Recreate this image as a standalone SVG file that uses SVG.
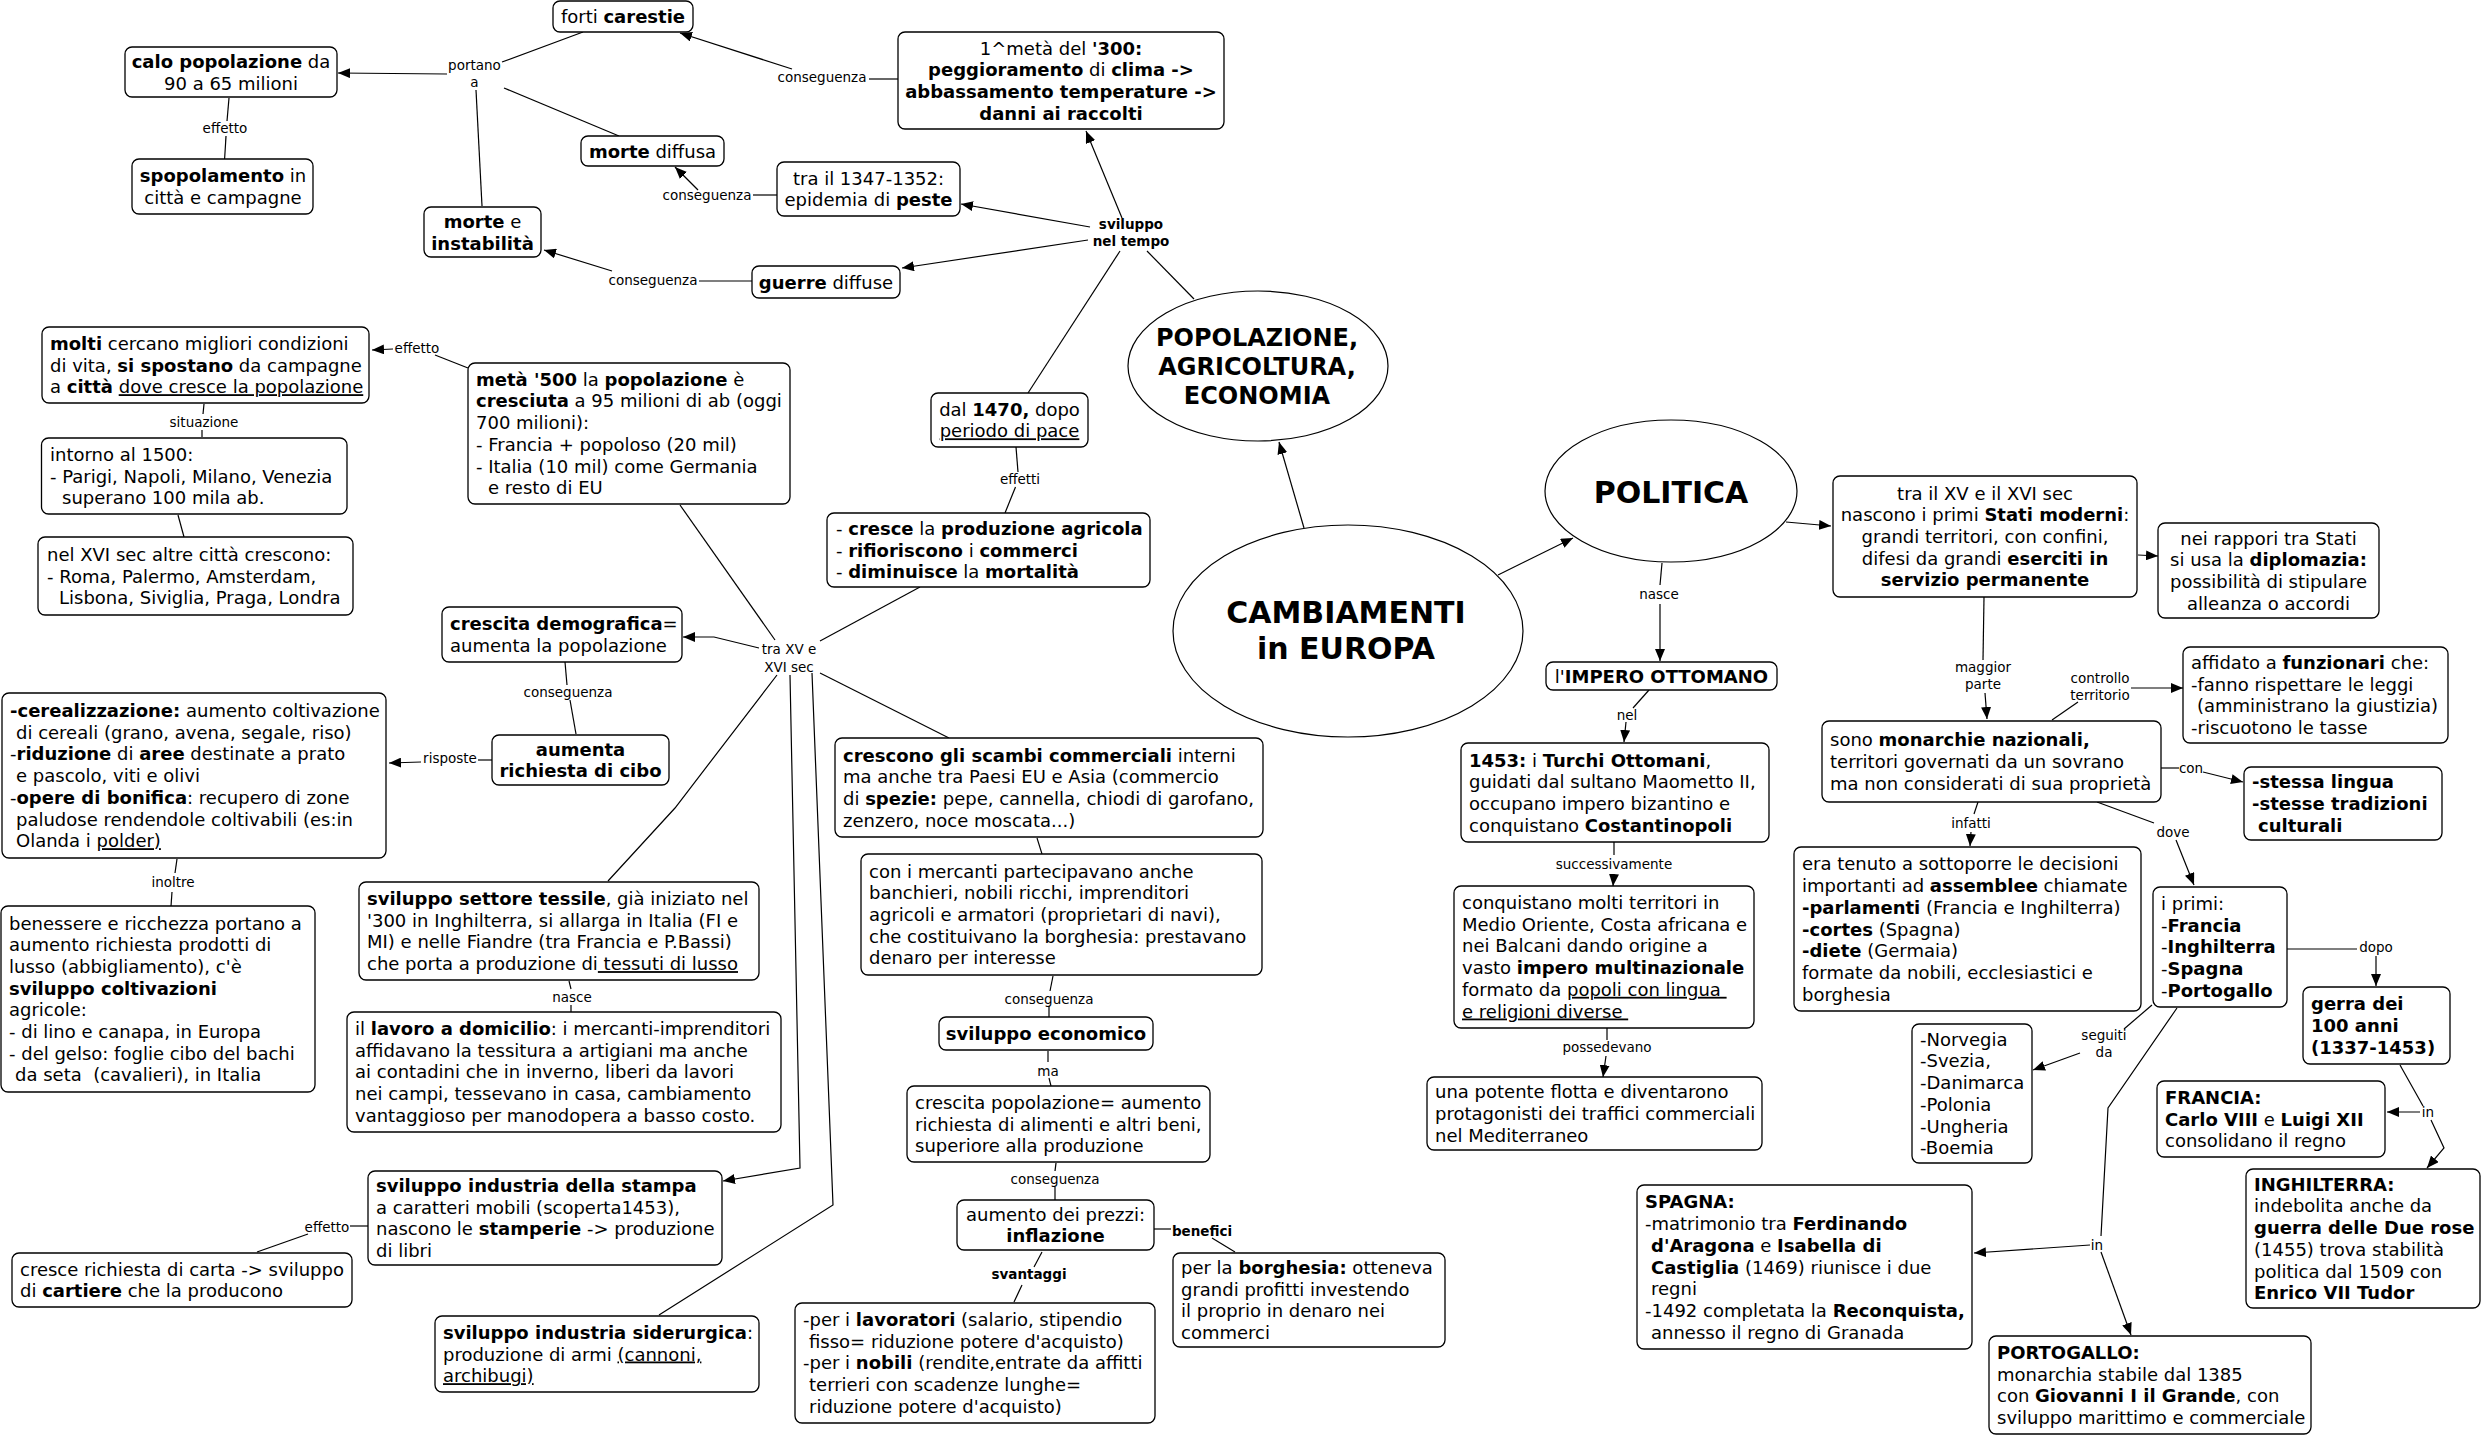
<svg xmlns="http://www.w3.org/2000/svg" width="2483" height="1436" viewBox="0 0 2483 1436">
<style>
text{font-family:"DejaVu Sans",Verdana,sans-serif;font-size:18px;fill:#000}
.c{text-anchor:middle}
.b{font-weight:bold}
.u{text-decoration:underline}
.l{font-size:13.5px;text-anchor:middle}
.big{font-size:30px;font-weight:bold;text-anchor:middle}
.mid{font-size:24px;font-weight:bold;text-anchor:middle}
rect{fill:#fff;stroke:#000;stroke-width:1.3}
ellipse{fill:#fff;stroke:#000;stroke-width:1.2}
.e path{fill:none;stroke:#000;stroke-width:1.2}
.e path.a{marker-end:url(#ah)}
</style>
<defs>
<marker id="ah" markerWidth="13" markerHeight="10" refX="12" refY="5" orient="auto" markerUnits="userSpaceOnUse"><path d="M0,0 L12,5 L0,10 z" fill="#000"/></marker>
</defs>
<rect x="0" y="0" width="2483" height="1436" style="fill:#fff;stroke:none"/>
<g id="connectors" class="e">
<path d="M898,79 L869,79"/><path class="a" d="M792,69 L680,33"/>
<path d="M777,195 L753,195"/><path class="a" d="M698,190 L675,167"/>
<path d="M752,281 L699,281"/><path class="a" d="M612,271 L544,250"/>
<path d="M583,32 L502,62"/><path class="a" d="M447,74 L338,73"/><path d="M504,88 L619,136"/><path d="M476,90 L482,206"/>
<path d="M229,98 L227,121"/><path d="M226,136 L224.6,159"/>
<path class="a" d="M1122,218 L1086,131"/><path class="a" d="M1090,227 L961,204"/><path class="a" d="M1088,240 L902,268"/><path d="M1147,251 L1194,299"/><path d="M1120,251 L1028,393"/>
<path d="M1016,447 L1018,472"/><path d="M1015.5,487 L1005,513"/>
<path d="M920,587 L820,641"/>
<path d="M775,640 L680,505"/>
<path class="a" d="M759,648 L714,637 L683,637"/>
<path d="M820,673 L949,738"/>
<path d="M777,675 L675,808 L608,881"/>
<path class="a" d="M790,675 L800,1168 L723,1181"/>
<path d="M812,673 L833,1205 L659,1315"/>
<path d="M468,368 L435,355"/><path class="a" d="M393,349 L372,350"/>
<path d="M204,404 L203,414"/><path d="M202,430 L202,437"/>
<path d="M178,515 L184,537"/>
<path d="M565,662 L567,685"/><path d="M570,700 L576,734"/>
<path d="M492,760 L478,760"/><path class="a" d="M421,762 L389,763"/>
<path d="M177,859 L175,873"/><path d="M172,892 L171,906"/>
<path d="M569,981 L571,989"/><path d="M571,1005 L571,1012"/>
<path d="M368,1226 L350,1226"/><path d="M308,1234 L257,1252"/>
<path d="M1037,838 L1042,854"/>
<path d="M1053,976 L1050,991"/><path d="M1049,1006 L1049,1017"/>
<path d="M1048,1051 L1048,1062"/><path d="M1049,1078 L1051,1086"/>
<path d="M1056,1163 L1055,1171"/><path d="M1055,1187 L1055,1200"/>
<path d="M1154,1229 L1171,1229"/><path d="M1212,1238 L1235,1252"/>
<path d="M1042,1252 L1034,1267"/><path d="M1022,1285 L1014,1302"/>
<path class="a" d="M1304,528 L1279,442"/>
<path class="a" d="M1498,575 L1573,538"/>
<path class="a" d="M1786,522 L1831,526"/>
<path d="M1662,563 L1660,585"/><path class="a" d="M1660,604 L1660,661"/>
<path d="M1649,690 L1633,708"/><path class="a" d="M1626,722 L1624,742"/>
<path d="M1614,842 L1614,855"/><path class="a" d="M1614,874 L1613,886"/>
<path d="M1607,1028 L1607,1040"/><path class="a" d="M1606,1056 L1603,1077"/>
<path class="a" d="M2138,555 L2158,556"/>
<path d="M1984,597 L1983,660"/><path class="a" d="M1985,693 L1987,719"/>
<path d="M2052,720 L2078,702"/><path class="a" d="M2131,688 L2183,688"/>
<path d="M2161,768 L2179,768"/><path class="a" d="M2203,772 L2243,782"/>
<path d="M1978,802 L1974,814"/><path class="a" d="M1971,832 L1970,846"/>
<path d="M2097,802 L2154,823"/><path class="a" d="M2176,840 L2194,885"/>
<path d="M2287,949 L2357,949"/><path class="a" d="M2376,956 L2376,986"/>
<path d="M2152,1005 L2124,1029"/><path class="a" d="M2080,1053 L2033,1070"/>
<path d="M2177,1008 L2108,1108 L2101,1236"/><path class="a" d="M2090,1245 L1974,1253"/><path class="a" d="M2101,1252 L2131,1335"/>
<path d="M2400,1065 L2423,1106"/><path class="a" d="M2420,1112 L2387,1112"/><path class="a" d="M2431,1120 L2444,1148 L2427,1168"/>
<text class="l" x="822" y="81.5">conseguenza</text>
<text class="l" x="707" y="200">conseguenza</text>
<text class="l" x="653" y="285">conseguenza</text>
<text class="l" x="474.5" y="70">portano</text><text class="l" x="474.5" y="87">a</text>
<text class="l" x="225" y="133">effetto</text>
<text class="l b" x="1131" y="229">sviluppo</text><text class="l b" x="1131" y="246">nel tempo</text>
<text class="l" x="1020" y="484">effetti</text>
<text class="l" x="417" y="353">effetto</text>
<text class="l" x="204" y="427">situazione</text>
<text class="l" x="789" y="654">tra XV e</text><text class="l" x="789" y="672">XVI sec</text>
<text class="l" x="568" y="697">conseguenza</text>
<text class="l" x="450" y="763">risposte</text>
<text class="l" x="173" y="887">inoltre</text>
<text class="l" x="572" y="1002">nasce</text>
<text class="l" x="327" y="1232">effetto</text>
<text class="l" x="1049" y="1004">conseguenza</text>
<text class="l" x="1048" y="1076">ma</text>
<text class="l" x="1055" y="1184">conseguenza</text>
<text class="l b" x="1202" y="1236">benefici</text>
<text class="l b" x="1029" y="1279">svantaggi</text>
<text class="l" x="1659" y="599">nasce</text>
<text class="l" x="1627" y="720">nel</text>
<text class="l" x="1614" y="869">successivamente</text>
<text class="l" x="1607" y="1052">possedevano</text>
<text class="l" x="1983" y="672">maggior</text><text class="l" x="1983" y="689">parte</text>
<text class="l" x="2100" y="683">controllo</text><text class="l" x="2100" y="700">territorio</text>
<text class="l" x="2191" y="773">con</text>
<text class="l" x="1971" y="828">infatti</text>
<text class="l" x="2173" y="837">dove</text>
<text class="l" x="2376" y="952">dopo</text>
<text class="l" x="2104" y="1040">seguiti</text><text class="l" x="2104" y="1057">da</text>
<text class="l" x="2428" y="1117">in</text>
<text class="l" x="2097" y="1250">in</text>
</g>
<g id="n1"><rect x="553" y="1" width="140" height="31" rx="7"/><text class="c" x="623" y="23">forti <tspan class="b">carestie</tspan></text></g>
<g id="n2"><rect x="125" y="47" width="212" height="50" rx="7"/><text class="c" x="231" y="68"><tspan class="b">calo popolazione</tspan> da<tspan x="231" dy="21.7">90 a 65 milioni</tspan></text></g>
<g id="n3"><rect x="132" y="159" width="181" height="55" rx="7"/><text class="c" x="223" y="182"><tspan class="b">spopolamento</tspan> in<tspan x="223" dy="21.7">città e campagne</tspan></text></g>
<g id="n4"><rect x="424" y="207" width="117" height="50" rx="7"/><text class="c" x="482.5" y="228"><tspan class="b">morte</tspan> e<tspan x="482.5" dy="21.7" class="b">instabilità</tspan></text></g>
<g id="n5"><rect x="581" y="136" width="143" height="30" rx="7"/><text class="c" x="652.5" y="157.5"><tspan class="b">morte</tspan> diffusa</text></g>
<g id="n6"><rect x="898" y="32" width="326" height="97" rx="7"/><text class="c" x="1061" y="54.5">1^metà del <tspan class="b">'300:</tspan><tspan x="1061" dy="21.7"><tspan class="b">peggioramento</tspan> di <tspan class="b">clima -&gt;</tspan></tspan><tspan x="1061" dy="21.7" class="b">abbassamento temperature -&gt;</tspan><tspan x="1061" dy="21.7" class="b">danni ai raccolti</tspan></text></g>
<g id="n7"><rect x="777" y="162" width="183" height="54" rx="7"/><text class="c" x="868.5" y="184.6">tra il 1347-1352:<tspan x="868.5" dy="21.7">epidemia di <tspan class="b">peste</tspan></tspan></text></g>
<g id="n8"><rect x="752" y="266" width="148" height="32" rx="7"/><text class="c" x="826" y="288.5"><tspan class="b">guerre</tspan> diffuse</text></g>
<g id="n9"><ellipse cx="1258" cy="366" rx="130" ry="75"/><text class="mid" x="1257" y="346">POPOLAZIONE,<tspan x="1257" dy="29">AGRICOLTURA,</tspan><tspan x="1257" dy="29">ECONOMIA</tspan></text></g>
<g id="n10"><rect x="931" y="393" width="157" height="54" rx="7"/><text class="c" x="1009.5" y="415.6">dal <tspan class="b">1470,</tspan> dopo<tspan x="1009.5" dy="21.7" class="u">periodo di pace</tspan></text></g>
<g id="n11"><rect x="827" y="513" width="323" height="74" rx="7"/><text x="836" y="534.8">- <tspan class="b">cresce</tspan> la <tspan class="b">produzione agricola</tspan><tspan x="836" dy="21.7">- <tspan class="b">rifioriscono</tspan> i <tspan class="b">commerci</tspan></tspan><tspan x="836" dy="21.7">- <tspan class="b">diminuisce</tspan> la <tspan class="b">mortalità</tspan></tspan></text></g>
<g id="n12"><ellipse cx="1348" cy="631" rx="175" ry="106"/><text class="big" x="1346" y="623">CAMBIAMENTI<tspan x="1346" dy="36">in EUROPA</tspan></text></g>
<g id="n13"><ellipse cx="1671" cy="491" rx="126" ry="71"/><text class="big" x="1671" y="503">POLITICA</text></g>
<g id="n14"><rect x="1546" y="662" width="231" height="28" rx="7"/><text class="c" x="1661.5" y="682.5">l'<tspan class="b">IMPERO OTTOMANO</tspan></text></g>
<g id="n15"><rect x="1461" y="743" width="308" height="99" rx="7"/><text x="1469" y="766.5"><tspan class="b">1453:</tspan> i <tspan class="b">Turchi Ottomani</tspan>,<tspan x="1469" dy="21.7">guidati dal sultano Maometto II,</tspan><tspan x="1469" dy="21.7">occupano impero bizantino e</tspan><tspan x="1469" dy="21.7">conquistano <tspan class="b">Costantinopoli</tspan></tspan></text></g>
<g id="n16"><rect x="1454" y="886" width="300" height="142" rx="7"/><text x="1462" y="909">conquistano molti territori in<tspan x="1462" dy="21.7">Medio Oriente, Costa africana e</tspan><tspan x="1462" dy="21.7">nei Balcani dando origine a</tspan><tspan x="1462" dy="21.7">vasto <tspan class="b">impero multinazionale</tspan></tspan><tspan x="1462" dy="21.7">formato da <tspan class="u">popoli con lingua&#160;</tspan></tspan><tspan x="1462" dy="21.7" class="u">e religioni diverse&#160;</tspan></text></g>
<g id="n17"><rect x="1427" y="1077" width="335" height="73" rx="7"/><text x="1435" y="1098.3">una potente flotta e diventarono<tspan x="1435" dy="21.7">protagonisti dei traffici commerciali</tspan><tspan x="1435" dy="21.7">nel Mediterraneo</tspan></text></g>
<g id="n18"><rect x="1833" y="476" width="304" height="121" rx="7"/><text class="c" x="1985" y="499.6">tra il XV e il XVI sec<tspan x="1985" dy="21.7">nascono i primi <tspan class="b">Stati moderni</tspan>:</tspan><tspan x="1985" dy="21.7">grandi territori, con confini,</tspan><tspan x="1985" dy="21.7">difesi da grandi <tspan class="b">eserciti in</tspan></tspan><tspan x="1985" dy="21.7" class="b">servizio permanente</tspan></text></g>
<g id="n19"><rect x="2158" y="523" width="221" height="95" rx="7"/><text class="c" x="2268.5" y="544.5">nei rappori tra Stati<tspan x="2268.5" dy="21.7">si usa la <tspan class="b">diplomazia:</tspan></tspan><tspan x="2268.5" dy="21.7">possibilità di stipulare</tspan><tspan x="2268.5" dy="21.7">alleanza o accordi</tspan></text></g>
<g id="n20"><rect x="2183" y="647" width="265" height="96" rx="7"/><text x="2191" y="669">affidato a <tspan class="b">funzionari</tspan> che:<tspan x="2191" dy="21.7">-fanno rispettare le leggi</tspan><tspan x="2197" dy="21.7">(amministrano la giustizia)</tspan><tspan x="2191" dy="21.7">-riscuotono le tasse</tspan></text></g>
<g id="n21"><rect x="1822" y="721" width="339" height="81" rx="7"/><text x="1830" y="746.3">sono <tspan class="b">monarchie nazionali,</tspan><tspan x="1830" dy="21.7">territori governati da un sovrano</tspan><tspan x="1830" dy="21.7">ma non considerati di sua proprietà</tspan></text></g>
<g id="n22"><rect x="2244" y="767" width="198" height="73" rx="7"/><text class="b" x="2252" y="788.3">-stessa lingua<tspan x="2252" dy="21.7">-stesse tradizioni</tspan><tspan x="2258" dy="21.7">culturali</tspan></text></g>
<g id="n23"><rect x="1794" y="847" width="347" height="164" rx="7"/><text x="1802" y="870.4">era tenuto a sottoporre le decisioni<tspan x="1802" dy="21.7">importanti ad <tspan class="b">assemblee</tspan> chiamate</tspan><tspan x="1802" dy="21.7"><tspan class="b">-parlamenti</tspan> (Francia e Inghilterra)</tspan><tspan x="1802" dy="21.7"><tspan class="b">-cortes</tspan> (Spagna)</tspan><tspan x="1802" dy="21.7"><tspan class="b">-diete</tspan> (Germaia)</tspan><tspan x="1802" dy="21.7">formate da nobili, ecclesiastici e</tspan><tspan x="1802" dy="21.7">borghesia</tspan></text></g>
<g id="n24"><rect x="2153" y="887" width="134" height="120" rx="7"/><text x="2161" y="910">i primi:<tspan x="2161" dy="21.7">-<tspan class="b">Francia</tspan></tspan><tspan x="2161" dy="21.7">-<tspan class="b">Inghilterra</tspan></tspan><tspan x="2161" dy="21.7">-<tspan class="b">Spagna</tspan></tspan><tspan x="2161" dy="21.7">-<tspan class="b">Portogallo</tspan></tspan></text></g>
<g id="n25"><rect x="2303" y="987" width="147" height="77" rx="7"/><text class="b" x="2311" y="1010.3">gerra dei<tspan x="2311" dy="21.7">100 anni</tspan><tspan x="2311" dy="21.7">(1337-1453)</tspan></text></g>
<g id="n26"><rect x="1912" y="1024" width="120" height="139" rx="7"/><text x="1920" y="1045.7">-Norvegia<tspan x="1920" dy="21.7">-Svezia,</tspan><tspan x="1920" dy="21.7">-Danimarca</tspan><tspan x="1920" dy="21.7">-Polonia</tspan><tspan x="1920" dy="21.7">-Ungheria</tspan><tspan x="1920" dy="21.7">-Boemia</tspan></text></g>
<g id="n27"><rect x="2157" y="1081" width="228" height="76" rx="7"/><text x="2165" y="1103.8"><tspan class="b">FRANCIA:</tspan><tspan x="2165" dy="21.7"><tspan class="b">Carlo VIII</tspan> e <tspan class="b">Luigi XII</tspan></tspan><tspan x="2165" dy="21.7">consolidano il regno</tspan></text></g>
<g id="n28"><rect x="2246" y="1169" width="234" height="139" rx="7"/><text x="2254" y="1190.7"><tspan class="b">INGHILTERRA:</tspan><tspan x="2254" dy="21.7">indebolita anche da</tspan><tspan x="2254" dy="21.7" class="b">guerra delle Due rose</tspan><tspan x="2254" dy="21.7">(1455) trova stabilità</tspan><tspan x="2254" dy="21.7">politica dal 1509 con</tspan><tspan x="2254" dy="21.7" class="b">Enrico VII Tudor</tspan></text></g>
<g id="n29"><rect x="1637" y="1185" width="335" height="164" rx="7"/><text x="1645" y="1208.4"><tspan class="b">SPAGNA:</tspan><tspan x="1645" dy="21.7">-matrimonio tra <tspan class="b">Ferdinando</tspan></tspan><tspan x="1651" dy="21.7"><tspan class="b">d'Aragona</tspan> e <tspan class="b">Isabella di</tspan></tspan><tspan x="1651" dy="21.7"><tspan class="b">Castiglia</tspan> (1469) riunisce i due</tspan><tspan x="1651" dy="21.7">regni</tspan><tspan x="1645" dy="21.7">-1492 completata la <tspan class="b">Reconquista,</tspan></tspan><tspan x="1651" dy="21.7">annesso il regno di Granada</tspan></text></g>
<g id="n30"><rect x="1989" y="1336" width="322" height="98" rx="7"/><text x="1997" y="1359"><tspan class="b">PORTOGALLO:</tspan><tspan x="1997" dy="21.7">monarchia stabile dal 1385</tspan><tspan x="1997" dy="21.7">con <tspan class="b">Giovanni I il Grande</tspan>, con</tspan><tspan x="1997" dy="21.7">sviluppo marittimo e commerciale</tspan></text></g>
<g id="n31"><rect x="42" y="327" width="327" height="76" rx="7"/><text x="50" y="349.8"><tspan class="b">molti</tspan> cercano migliori condizioni<tspan x="50" dy="21.7">di vita, <tspan class="b">si spostano</tspan> da campagne</tspan><tspan x="50" dy="21.7">a <tspan class="b">città</tspan> <tspan class="u">dove cresce la popolazione</tspan></tspan></text></g>
<g id="n32"><rect x="468" y="363" width="322" height="141" rx="7"/><text x="476" y="385.7"><tspan class="b">metà '500</tspan> la <tspan class="b">popolazione</tspan> è<tspan x="476" dy="21.7"><tspan class="b">cresciuta</tspan> a 95 milioni di ab (oggi</tspan><tspan x="476" dy="21.7">700 milioni):</tspan><tspan x="476" dy="21.7">- Francia + popoloso (20 mil)</tspan><tspan x="476" dy="21.7">- Italia (10 mil) come Germania</tspan><tspan x="488" dy="21.7">e resto di EU</tspan></text></g>
<g id="n33"><rect x="41.5" y="438" width="305.5" height="76" rx="7"/><text x="50" y="460.8">intorno al 1500:<tspan x="50" dy="21.7">- Parigi, Napoli, Milano, Venezia</tspan><tspan x="62" dy="21.7">superano 100 mila ab.</tspan></text></g>
<g id="n34"><rect x="38" y="537" width="315" height="78" rx="7"/><text x="47" y="560.8">nel XVI sec altre città crescono:<tspan x="47" dy="21.7">- Roma, Palermo, Amsterdam,</tspan><tspan x="59" dy="21.7">Lisbona, Siviglia, Praga, Londra</tspan></text></g>
<g id="n35"><rect x="442" y="607" width="240" height="55" rx="7"/><text x="450" y="630"><tspan class="b">crescita demografica</tspan>=<tspan x="450" dy="21.7">aumenta la popolazione</tspan></text></g>
<g id="n36"><rect x="492" y="735" width="177" height="50" rx="7"/><text class="c b" x="580.5" y="755.6">aumenta<tspan x="580.5" dy="21.7">richiesta di cibo</tspan></text></g>
<g id="n37"><rect x="2" y="693" width="384" height="165" rx="7"/><text x="10" y="717"><tspan class="b">-cerealizzazione:</tspan> aumento coltivazione<tspan x="16" dy="21.7">di cereali (grano, avena, segale, riso)</tspan><tspan x="10" dy="21.7">-<tspan class="b">riduzione</tspan> di <tspan class="b">aree</tspan> destinate a prato</tspan><tspan x="16" dy="21.7">e pascolo, viti e olivi</tspan><tspan x="10" dy="21.7">-<tspan class="b">opere di bonifica</tspan>: recupero di zone</tspan><tspan x="16" dy="21.7">paludose rendendole coltivabili (es:in</tspan><tspan x="16" dy="21.7">Olanda i <tspan class="u">polder)</tspan></tspan></text></g>
<g id="n38"><rect x="1" y="906" width="314" height="186" rx="7"/><text x="9" y="929.5">benessere e ricchezza portano a<tspan x="9" dy="21.7">aumento richiesta prodotti di</tspan><tspan x="9" dy="21.7">lusso (abbigliamento), c'è</tspan><tspan x="9" dy="21.7" class="b">sviluppo coltivazioni</tspan><tspan x="9" dy="21.7">agricole:</tspan><tspan x="9" dy="21.7">- di lino e canapa, in Europa</tspan><tspan x="9" dy="21.7">- del gelso: foglie cibo del bachi</tspan><tspan x="15" dy="21.7">da seta &#160;(cavalieri), in Italia</tspan></text></g>
<g id="n39"><rect x="359" y="882" width="400" height="98" rx="7"/><text x="367" y="905"><tspan class="b">sviluppo settore tessile</tspan>, già iniziato nel<tspan x="367" dy="21.7">'300 in Inghilterra, si allarga in Italia (FI e</tspan><tspan x="367" dy="21.7">MI) e nelle Fiandre (tra Francia e P.Bassi)</tspan><tspan x="367" dy="21.7">che porta a produzione di<tspan class="u">&#160;tessuti di lusso</tspan></tspan></text></g>
<g id="n40"><rect x="347" y="1012" width="434" height="120" rx="7"/><text x="355" y="1035">il <tspan class="b">lavoro a domicilio</tspan>: i mercanti-imprenditori<tspan x="355" dy="21.7">affidavano la tessitura a artigiani ma anche</tspan><tspan x="355" dy="21.7">ai contadini che in inverno, liberi da lavori</tspan><tspan x="355" dy="21.7">nei campi, tessevano in casa, cambiamento</tspan><tspan x="355" dy="21.7">vantaggioso per manodopera a basso costo.</tspan></text></g>
<g id="n41"><rect x="368" y="1171" width="354" height="94" rx="7"/><text x="376" y="1192"><tspan class="b">sviluppo industria della stampa</tspan><tspan x="376" dy="21.7">a caratteri mobili (scoperta1453),</tspan><tspan x="376" dy="21.7">nascono le <tspan class="b">stamperie</tspan> -&gt; produzione</tspan><tspan x="376" dy="21.7">di libri</tspan></text></g>
<g id="n42"><rect x="12" y="1253" width="340" height="54" rx="7"/><text x="20" y="1275.7">cresce richiesta di carta -&gt; sviluppo<tspan x="20" dy="21.7">di <tspan class="b">cartiere</tspan> che la producono</tspan></text></g>
<g id="n43"><rect x="435" y="1316" width="324" height="76" rx="7"/><text x="443" y="1338.8"><tspan class="b">sviluppo industria siderurgica</tspan>:<tspan x="443" dy="21.7">produzione di armi <tspan class="u">(cannoni,</tspan></tspan><tspan x="443" dy="21.7" class="u">archibugi)</tspan></text></g>
<g id="n44"><rect x="835" y="738" width="428" height="99" rx="7"/><text x="843" y="761.5"><tspan class="b">crescono gli scambi commerciali</tspan> interni<tspan x="843" dy="21.7">ma anche tra Paesi EU e Asia (commercio</tspan><tspan x="843" dy="21.7">di <tspan class="b">spezie:</tspan> pepe, cannella, chiodi di garofano,</tspan><tspan x="843" dy="21.7">zenzero, noce moscata...)</tspan></text></g>
<g id="n45"><rect x="861" y="854" width="401" height="121" rx="7"/><text x="869" y="877.6">con i mercanti partecipavano anche<tspan x="869" dy="21.7">banchieri, nobili ricchi, imprenditori</tspan><tspan x="869" dy="21.7">agricoli e armatori (proprietari di navi),</tspan><tspan x="869" dy="21.7">che costituivano la borghesia: prestavano</tspan><tspan x="869" dy="21.7">denaro per interesse</tspan></text></g>
<g id="n46"><rect x="939" y="1017" width="214" height="33" rx="7"/><text class="c b" x="1046" y="1040">sviluppo economico</text></g>
<g id="n47"><rect x="907" y="1086" width="303" height="76" rx="7"/><text x="915" y="1108.8">crescita popolazione= aumento<tspan x="915" dy="21.7">richiesta di alimenti e altri beni,</tspan><tspan x="915" dy="21.7">superiore alla produzione</tspan></text></g>
<g id="n48"><rect x="957" y="1200" width="197" height="50" rx="7"/><text class="c" x="1055.5" y="1220.6">aumento dei prezzi:<tspan x="1055.5" dy="21.7" class="b">inflazione</tspan></text></g>
<g id="n49"><rect x="795" y="1303" width="360" height="120" rx="7"/><text x="803" y="1326">-per i <tspan class="b">lavoratori</tspan> (salario, stipendio<tspan x="809" dy="21.7">fisso= riduzione potere d'acquisto)</tspan><tspan x="803" dy="21.7">-per i <tspan class="b">nobili</tspan> (rendite,entrate da affitti</tspan><tspan x="809" dy="21.7">terrieri con scadenze lunghe=</tspan><tspan x="809" dy="21.7">riduzione potere d'acquisto)</tspan></text></g>
<g id="n50"><rect x="1173" y="1253" width="272" height="94" rx="7"/><text x="1181" y="1274">per la <tspan class="b">borghesia:</tspan> otteneva<tspan x="1181" dy="21.7">grandi profitti investendo</tspan><tspan x="1181" dy="21.7">il proprio in denaro nei</tspan><tspan x="1181" dy="21.7">commerci</tspan></text></g>
</svg>
